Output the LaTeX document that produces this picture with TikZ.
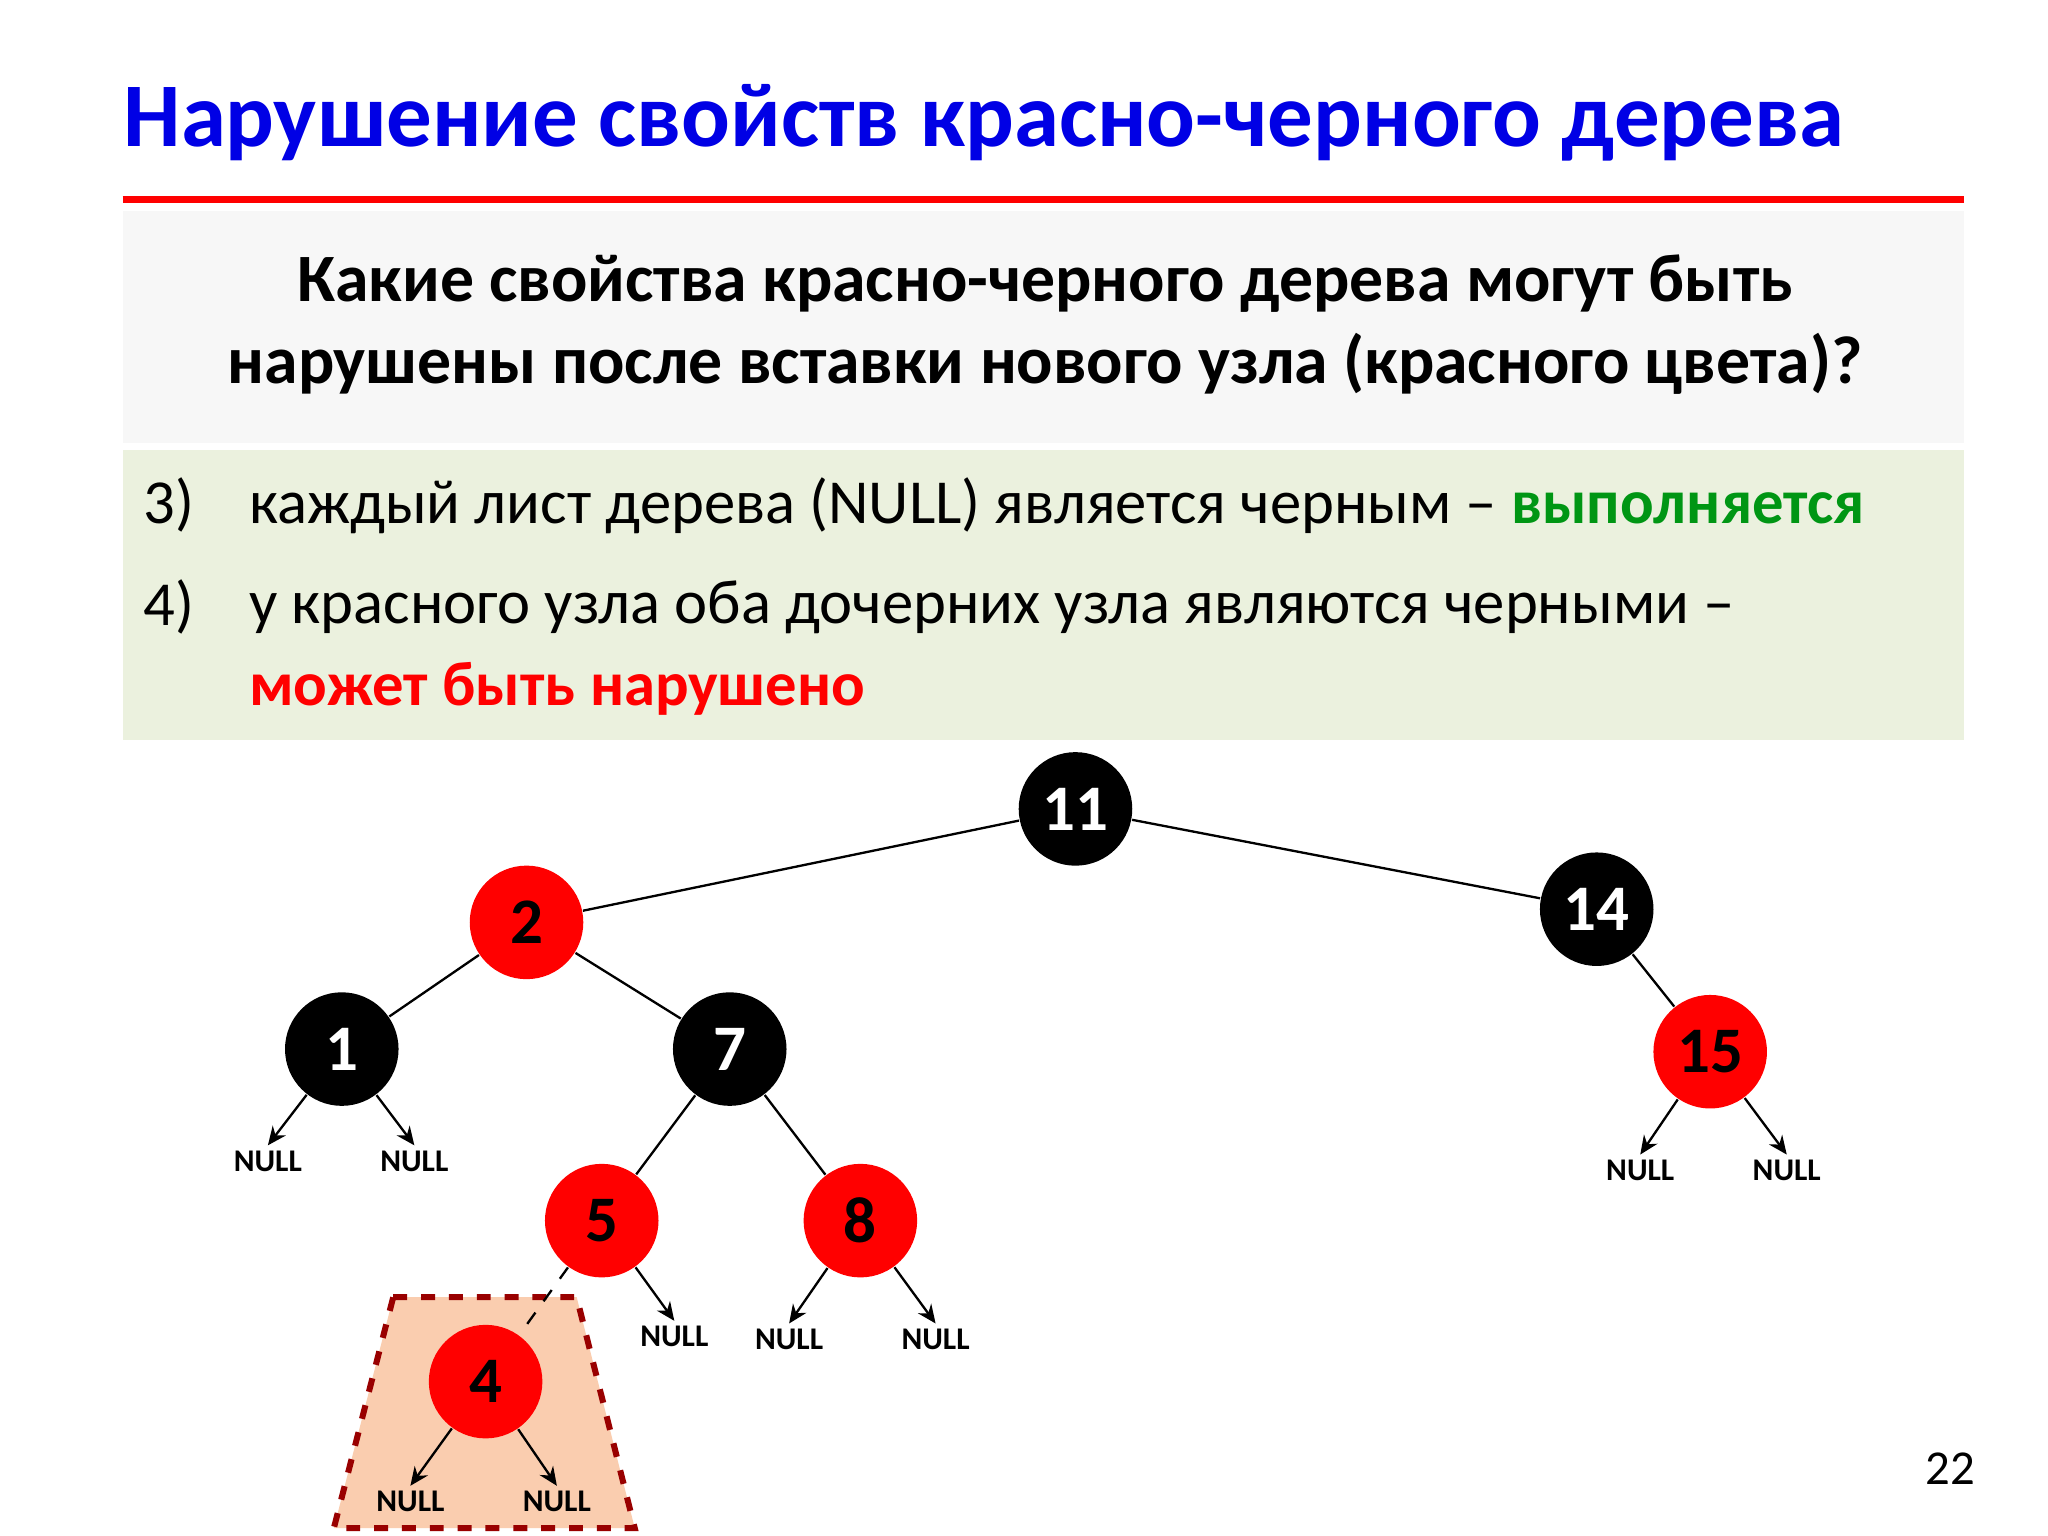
\documentclass[tikz,border=0pt]{standalone}
\usepackage{fontspec}
\setmainfont{Carlito}
\usetikzlibrary{arrows.meta}
\definecolor{boxgreen}{RGB}{235,241,222}
\definecolor{okgreen}{RGB}{0,150,20}
\definecolor{peach}{RGB}{250,205,175}
\begin{document}
\begin{tikzpicture}[x=0.01cm,y=-0.01cm,
  rb/.style={circle,fill=red,minimum size=0.86cm,inner sep=0pt,font=\fontsize{14}{14}\selectfont\bfseries,text=black},
  bb/.style={circle,fill=black,minimum size=0.86cm,inner sep=0pt,font=\fontsize{14}{14}\selectfont\bfseries,text=white},
  nl/.style={font=\fontsize{6.8}{7}\selectfont\bfseries,inner sep=1pt},
  ar/.style={-{Stealth[length=4pt,width=3.5pt]},line width=0.5pt},
  ed/.style={line width=0.5pt}]
\useasboundingbox (0,0) rectangle (1552,1164);
\fill[white] (0,0) rectangle (1552,1164);
\node[anchor=west,text=blue!90!black,font=\fontsize{19.6}{19.6}\selectfont\bfseries,inner sep=0pt] (title) at (93,93) {Нарушение свойств красно-черного дерева};
\draw[red,line width=1.4pt] (93,151) -- (1488,151);
\fill[black!3] (93,160) rectangle (1488,336);
\node[align=center,font=\fontsize{14.6}{17.5}\selectfont\bfseries,inner sep=0pt] (q) at (792,246) {Какие свойства красно-черного дерева могут быть\\нарушены после вставки нового узла (красного цвета)?};
\fill[boxgreen] (93,341) rectangle (1488,561);
\begin{scope}[font=\fontsize{13.5}{13.5}\selectfont]
\node[anchor=west,inner sep=0pt] (n3) at (108,383) {3)};
\node[anchor=west,inner sep=0pt] (t3) at (188,383) {каждый лист дерева (NULL) является черным – \textcolor{okgreen}{\bfseries выполняется}};
\node[anchor=west,inner sep=0pt] (n4) at (108,460) {4)};
\node[anchor=west,inner sep=0pt] (t4) at (188,460) {у красного узла оба дочерних узла являются черными –};
\node[anchor=west,inner sep=0pt,text=red] (t5) at (188,522) {\bfseries может быть нарушено};
\end{scope}
\fill[peach] (298,983) -- (437,983) -- (481,1158) -- (253,1158) -- cycle;
\draw[red!60!black,line width=1.3pt,dashed] (298,983) -- (437,983) -- (481,1158) -- (253,1158) -- cycle;
\node[bb] (a11) at (815,613) {11};
\node[rb] (a2) at (399,699) {2};
\node[bb] (a14) at (1210,689) {14};
\node[bb] (a1) at (259,795) {1};
\node[bb] (a7) at (553,795) {7};
\node[rb] (a15) at (1296,797) {15};
\node[rb] (a5) at (456,925) {5};
\node[rb] (a8) at (652,925) {8};
\node[rb] (a4) at (368,1047) {4};
\draw[ed] (a11) -- (a2); \draw[ed] (a11) -- (a14);
\draw[ed] (a2) -- (a1); \draw[ed] (a2) -- (a7);
\draw[ed] (a14) -- (a15);
\draw[ed] (a7) -- (a5); \draw[ed] (a7) -- (a8);
\draw[ed,dashed] (a5) -- (a4);
\node[nl] (l1a) at (203,880) {NULL}; \node[nl] (l1b) at (314,880) {NULL};
\node[nl] (l15a) at (1243,887) {NULL}; \node[nl] (l15b) at (1354,887) {NULL};
\node[nl] (l5b) at (511,1013) {NULL};
\node[nl] (l8a) at (598,1015) {NULL}; \node[nl] (l8b) at (709,1015) {NULL};
\node[nl] (l4a) at (311,1138) {NULL}; \node[nl] (l4b) at (422,1138) {NULL};
\draw[ar] (a1) -- (l1a.north); \draw[ar] (a1) -- (l1b.north);
\draw[ar] (a15) -- (l15a.north); \draw[ar] (a15) -- (l15b.north);
\draw[ar] (a5) -- (l5b.north);
\draw[ar] (a8) -- (l8a.north); \draw[ar] (a8) -- (l8b.north);
\draw[ar] (a4) -- (l4a.north); \draw[ar] (a4) -- (l4b.north);
\node[font=\fontsize{10.5}{10.5}\selectfont] (pg) at (1478,1113) {22};
\end{tikzpicture}
\end{document}
